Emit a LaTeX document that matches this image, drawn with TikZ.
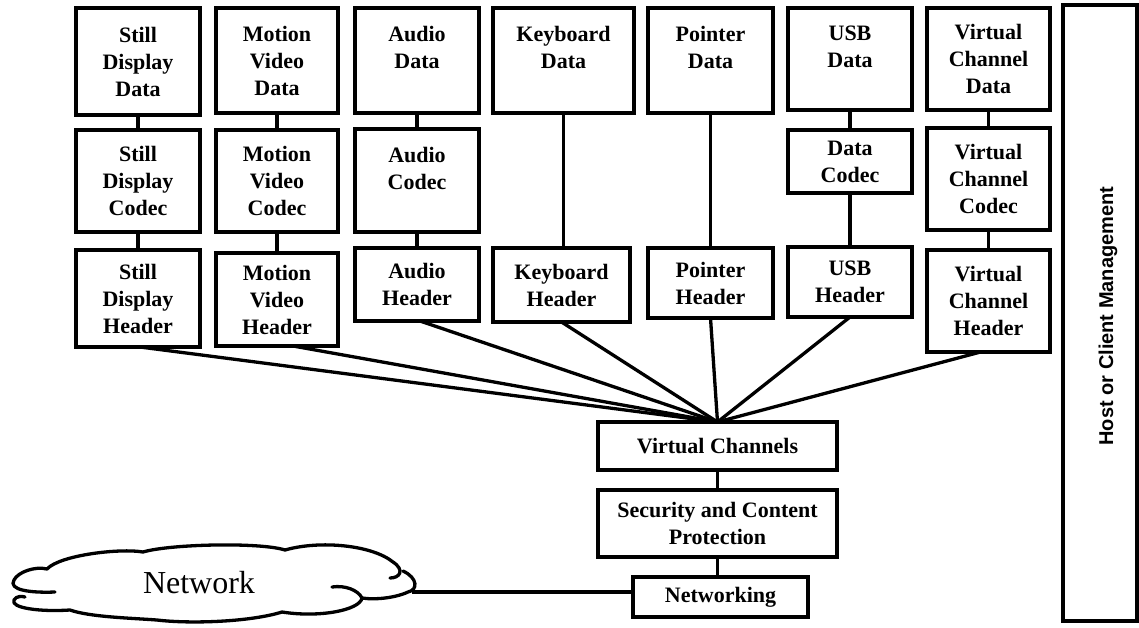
\documentclass[tikz,border=0pt]{standalone}
\usepackage{fontspec}
\setmainfont{Liberation Serif}
\newfontfamily\hostfont{Liberation Sans}
\tikzset{
  box/.style={draw, line width=3.3pt, rectangle, inner sep=0pt, outer sep=0pt},
  txt/.style={font=\fontsize{22}{27}\selectfont\bfseries, align=center, inner sep=0pt},
  toptxt/.style={txt, anchor=north, yshift=-18pt},
  ln/.style={line width=3.3pt},
  cloudline/.style={line width=3.3pt, line cap=round, line join=round},
}
\newcommand\mkbox[5]{\node[box, minimum width={(#4-#2)*1pt}, minimum height={(#5-#3)*1pt}] (#1) at ({(#2+#4)/2},{(#3+#5)/2}) {};}
\begin{document}
\begin{tikzpicture}[x=1pt, y=-1pt]
\useasboundingbox (0,0) rectangle (1139,627);
% column boxes
\mkbox{sdd}{76}{8}{200}{115}
\mkbox{sdc}{76}{130}{200}{232}
\mkbox{sdh}{76}{250}{200}{347}
\mkbox{mvd}{216}{8}{338}{113}
\mkbox{mvc}{216}{130}{338}{232}
\mkbox{mvh}{216}{253}{338}{346}
\mkbox{ad}{355}{8}{479}{113}
\mkbox{ac}{355}{129}{479}{232}
\mkbox{ah}{355}{248}{479}{321}
\mkbox{kd}{493}{8}{634}{113}
\mkbox{kh}{493}{248}{630}{322}
\mkbox{pd}{648}{8}{773}{113}
\mkbox{ph}{648}{248}{773}{318}
\mkbox{ud}{788}{8}{912}{110}
\mkbox{uc}{788}{130}{912}{193}
\mkbox{uh}{788}{247}{912}{317}
\mkbox{vd}{927}{8}{1050}{110}
\mkbox{vcc}{927}{128}{1050}{230}
\mkbox{vh}{927}{250}{1050}{352}
\mkbox{vc}{598}{422}{837}{470}
\mkbox{sec}{598}{490}{837}{557}
\mkbox{nw}{633}{577}{808}{617}
\mkbox{host}{1063}{5}{1137}{621}
% texts
\node[txt] (sddt) at (sdd) {Still\\Display\\Data};
\node[txt] (sdct) at (sdc) {Still\\Display\\Codec};
\node[txt] (sdht) at (sdh) {Still\\Display\\Header};
\node[txt] (mvdt) at (mvd) {Motion\\Video\\Data};
\node[txt] (mvct) at (mvc) {Motion\\Video\\Codec};
\node[txt] (mvht) at (mvh) {Motion\\Video\\Header};
\node[toptxt] (adt) at (ad.north) {Audio\\Data};
\node[toptxt] (act) at (ac.north) {Audio\\Codec};
\node[txt] (aht) at (ah) {Audio\\Header};
\node[toptxt] (kdt) at (kd.north) {Keyboard\\Data};
\node[txt] (kht) at (kh) {Keyboard\\Header};
\node[toptxt] (pdt) at (pd.north) {Pointer\\Data};
\node[txt] (pht) at (ph) {Pointer\\Header};
\node[toptxt] (udt) at (ud.north) {USB\\Data};
\node[txt] (uct) at (uc) {Data\\Codec};
\node[txt] (uht) at (uh) {USB\\Header};
\node[txt] (vdt) at (vd) {Virtual\\Channel\\Data};
\node[txt] (vcct) at (vcc) {Virtual\\Channel\\Codec};
\node[txt] (vht) at (vh) {Virtual\\Channel\\Header};
\node[txt] (vct) at (vc) {Virtual Channels};
\node[txt] (sect) at (sec) {Security and Content\\Protection};
\node[txt] (nwt) at (nw) {Networking};
\node[rotate=90, inner sep=0pt, font=\hostfont\bfseries\fontsize{20}{24}\selectfont] (hostt) at (1108,316) {Host or Client Management};
% cloud outline
\draw[cloudline] (55,592) .. controls (30,593) and (8,590) .. (14,580)
  .. controls (18,572) and (35,566) .. (47,569)
  .. controls (60,555) and (120,548) .. (143,552)
  .. controls (170,544) and (260,542) .. (285,550)
  .. controls (320,540) and (372,545) .. (393,562)
  .. controls (405,570) and (400,578) .. (390,578);
\draw[cloudline] (403,571) .. controls (418,578) and (418,590) .. (408,592)
  .. controls (395,598) and (375,600) .. (362,598)
  .. controls (360,610) and (320,618) .. (282,612)
  .. controls (250,622) and (190,624) .. (157,620)
  .. controls (130,618) and (90,617) .. (70,610)
  .. controls (40,612) and (10,608) .. (14,600)
  .. controls (16,596) and (22,596) .. (25,597);
\draw[cloudline] (332,587) .. controls (345,585) and (358,590) .. (362,598);
\coordinate (cloudR) at (412,592);
\node[inner sep=0pt, font=\fontsize{32}{38}\selectfont] (nett) at (199,583) {Network};
% vertical connectors
\draw[ln] (sdd.south) -- (sdc.north);
\draw[ln] (sdc.south) -- (sdh.north);
\draw[ln] (mvd.south) -- (mvc.north);
\draw[ln] (mvc.south) -- (mvh.north);
\draw[ln] (ad.south) -- (ac.north);
\draw[ln] (ac.south) -- (ah.north);
\draw[ln] (kd.south) -- (kd.south |- kh.north);
\draw[ln] (pd.south) -- (pd.south |- ph.north);
\draw[ln] (ud.south) -- (uc.north);
\draw[ln] (uc.south) -- (uh.north);
\draw[ln] (vd.south) -- (vcc.north);
\draw[ln] (vcc.south) -- (vh.north);
% fan-in
\draw[ln] ([xshift=2pt]sdh.south) -- (vc.north);
\draw[ln] ([xshift=16pt]mvh.south) -- (vc.north);
\draw[ln] ([xshift=3pt]ah.south) -- (vc.north);
\draw[ln] (kh.south) -- (vc.north);
\draw[ln] (ph.south) -- (vc.north);
\draw[ln] (uh.south) -- (vc.north);
\draw[ln] ([xshift=-8pt]vh.south) -- (vc.north);
% stack
\draw[ln] (vc.south) -- (sec.north);
\draw[ln] (sec.south) -- (sec.south |- nw.north);
\draw[ln] (cloudR) -- (cloudR -| nw.west);
\end{tikzpicture}
\end{document}
